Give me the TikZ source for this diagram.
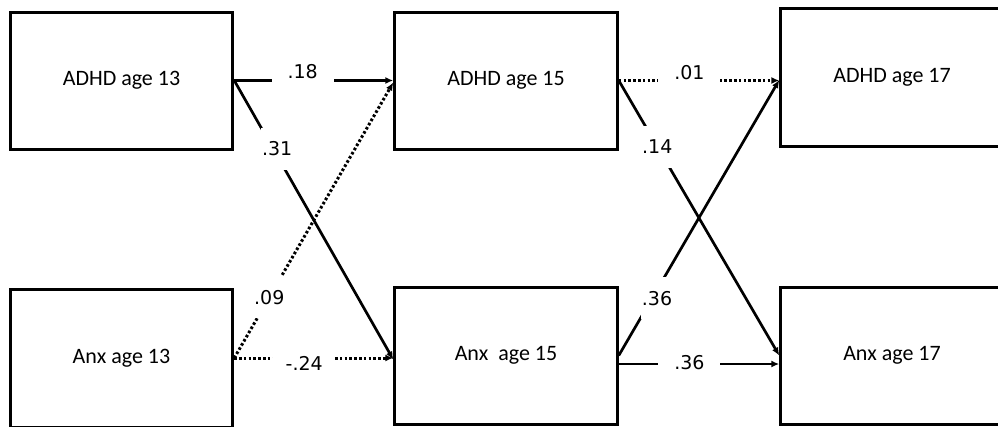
\documentclass[tikz,border=0pt]{standalone}
\usepackage{fontspec}
\setmainfont{Carlito}
\newfontfamily\lblfont{DejaVu Sans}
\usetikzlibrary{arrows.meta}
\begin{document}
\begin{tikzpicture}[x=1pt,y=-1pt,
  box/.style={draw=black, line width=3pt, minimum width=222.5pt, minimum height=137pt, inner sep=0pt, font=\fontsize{22}{25}\selectfont},
  link/.style={line width=2.7pt, -{Latex[length=8pt,width=7pt]}},
  dotlink/.style={link, line width=3pt, dash pattern=on 2.6pt off 2.2pt},
  lbl/.style={fill=white, inner sep=0pt, font=\lblfont\fontsize{19}{22}\selectfont},
  hlbl/.style={lbl, minimum width=62pt, minimum height=28pt},
  dlbl/.style={lbl, minimum width=32pt, minimum height=42pt}]
\useasboundingbox (0,0) rectangle (998,426);
\clip (0,0) rectangle (998,426);
\node[box] (a13) at (121.5,80.5) {ADHD age 13};
\node[box] (a15) at (506,80.5) {ADHD age 15};
\node[box, minimum height=138pt] (a17) at (892,77) {ADHD age 17};
\node[box, minimum height=138pt] (x13) at (121.5,358) {Anx age 13};
\node[box] (x15) at (506,355.5) {Anx~~age 15};
\node[box] (x17) at (892,355.5) {Anx age 17};
\draw[link] (a13.east) -- (a15.west) node[hlbl,pos=0.43,yshift=9pt]{.18};
\draw[link] (a13.east) -- ([yshift=-4pt]x15.west) node[dlbl,pos=0.245,xshift=4pt]{.31};
\draw[dotlink] (x13.east) -- ([yshift=-2pt]a15.west) node[dlbl,pos=0.22]{.09};
\draw[dotlink] (x13.east) -- (x13.east -| x15.west) node[hlbl,pos=0.44,yshift=-5pt]{-.24};
\draw[dotlink] (a15.east) -- (a15.east -| a17.west) node[hlbl,pos=0.44,yshift=8pt]{.01};
\draw[link] (a15.east) -- (x17.west) node[dlbl,pos=0.24]{.14};
\draw[link] (x15.east) -- ([yshift=-3pt]a17.west) node[dlbl,pos=0.207,xshift=5pt]{.36};
\draw[link] ([yshift=-8.5pt]x15.east) -- ([yshift=-8.5pt]x15.east -| x17.west) node[hlbl,pos=0.44,yshift=1pt]{.36};
\end{tikzpicture}
\end{document}
